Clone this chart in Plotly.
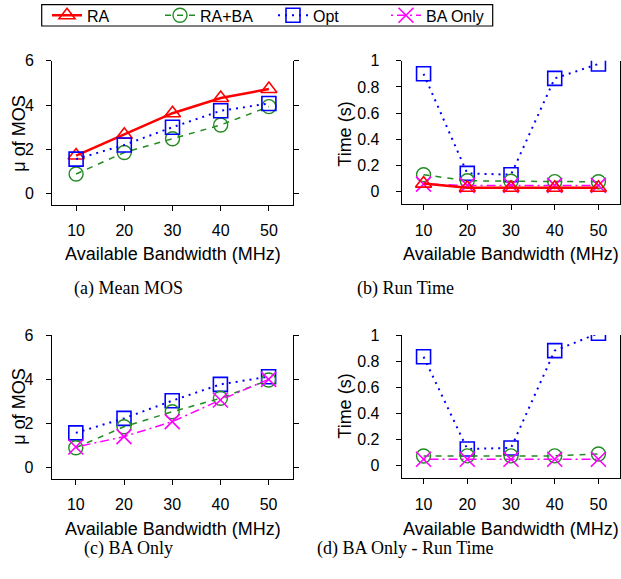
import plotly.graph_objects as go

# ---------------- data ----------------
bandwidth = [10, 20, 30, 40, 50]
bandwidth_labels = ["10", "20", "30", "40", "50"]

# (a) Mean MOS
mos_ra = [1.72, 2.66, 3.63, 4.32, 4.72]
mos_raba = [0.89, 1.86, 2.48, 3.10, 3.93]
mos_opt = [1.56, 2.20, 3.00, 3.74, 4.07]

# (b) Run time
time_opt = [0.90, 0.14, 0.13, 0.865, 0.975]
time_raba = [0.13, 0.084, 0.080, 0.077, 0.076]
time_ra = [0.062, 0.030, 0.030, 0.030, 0.030]
time_ba = [0.058, 0.048, 0.048, 0.048, 0.048]

# (c) BA only MOS
mosc_opt = [1.56, 2.22, 3.02, 3.76, 4.11]
mosc_raba = [0.89, 1.84, 2.52, 3.13, 3.96]
mosc_ba = [0.92, 1.39, 2.07, 3.05, 3.99]

# (d) BA only run time
timed_opt = [0.833, 0.125, 0.133, 0.88, 1.013]
timed_raba = [0.071, 0.072, 0.072, 0.072, 0.087]
timed_ba = [0.046, 0.046, 0.046, 0.046, 0.046]

mos_ticks = [0, 2, 4, 6]
time_ticks = [0, 0.2, 0.4, 0.6, 0.8, 1]
time_ticktext = ["0", "0.2", "0.4", "0.6", "0.8", "1"]

# ---------------- styles ----------------
W, H = 621, 579
RED, GREEN, BLUE, MAG = "#FF0000", "#228B22", "#0000FF", "#FF00FF"
style = {
    "RA": dict(line=dict(color=RED, width=2.5),
               marker=dict(symbol="triangle-up-open", size=14, color=RED, line=dict(width=1.6, color=RED)), rank=1),
    "RA+BA": dict(line=dict(color=GREEN, width=1.5, dash="6px,6px"),
                  marker=dict(symbol="circle-open", size=14, color=GREEN, line=dict(width=1.4, color=GREEN)), rank=2),
    "Opt": dict(line=dict(color=BLUE, width=2, dash="2px,5px"),
                marker=dict(symbol="square-open", size=14, color=BLUE, line=dict(width=1.6, color=BLUE)), rank=3),
    "BA Only": dict(line=dict(color=MAG, width=1.5, dash="2px,4px,9px,4px"),
                    marker=dict(symbol="x-thin-open", size=15, color=MAG, line=dict(width=1.6, color=MAG)), rank=4),
}

fig = go.Figure()
shown = set()


def add(name, y, xa, ya):
    s = style[name]
    show = name not in shown
    shown.add(name)
    fig.add_trace(go.Scatter(
        x=bandwidth, y=y, mode="lines+markers", name=name,
        line=s["line"], marker=s["marker"], xaxis=xa, yaxis=ya,
        showlegend=show, legendrank=s["rank"], cliponaxis=True))


# panel (a)
add("RA", mos_ra, "x", "y")
add("RA+BA", mos_raba, "x", "y")
add("Opt", mos_opt, "x", "y")
# panel (b)
add("Opt", time_opt, "x2", "y2")
add("RA+BA", time_raba, "x2", "y2")
add("BA Only", time_ba, "x2", "y2")
add("RA", time_ra, "x2", "y2")
# panel (c)
add("Opt", mosc_opt, "x3", "y3")
add("RA+BA", mosc_raba, "x3", "y3")
add("BA Only", mosc_ba, "x3", "y3")
# panel (d)
add("Opt", timed_opt, "x4", "y4")
add("RA+BA", timed_raba, "x4", "y4")
add("BA Only", timed_ba, "x4", "y4")

FONT = "Liberation Sans, Arial, sans-serif"
SERIF = "Liberation Serif, Times New Roman, serif"
TICKFONT = dict(family=FONT, size=16, color="black")


def px_x(a, b):
    return [a / W, b / W]


def px_y(top, bottom):
    return [1 - bottom / H, 1 - top / H]


panels = {
    1: dict(xd=px_x(52, 293), yd=px_y(60.7, 205), yr=[-0.51, 6], yt=mos_ticks, ytt=[str(v) for v in mos_ticks], so=9),
    2: dict(xd=px_x(401.7, 620.3), yd=px_y(60.7, 204.3), yr=[-0.096, 1], yt=time_ticks, ytt=time_ticktext, so=13),
    3: dict(xd=px_x(51.7, 292.7), yd=px_y(335, 479), yr=[-0.53, 6], yt=mos_ticks, ytt=[str(v) for v in mos_ticks], so=9),
    4: dict(xd=px_x(401.7, 620.3), yd=px_y(335, 478.3), yr=[-0.10, 1], yt=time_ticks, ytt=time_ticktext, so=13),
}

lay = {}
for i, p in panels.items():
    sx = "" if i == 1 else str(i)
    lay["xaxis" + sx] = dict(
        domain=p["xd"], range=[5, 55], anchor="y" + sx, tickmode="array",
        tickvals=bandwidth, ticktext=bandwidth_labels, showline=True, linecolor="black",
        linewidth=1, ticks="outside", ticklen=5, tickcolor="black", tickwidth=1,
        showgrid=False, zeroline=False, tickfont=TICKFONT, ticklabelstandoff=6,
        automargin=False)
    lay["yaxis" + sx] = dict(
        domain=p["yd"], range=p["yr"], anchor="x" + sx, tickmode="array",
        tickvals=p["yt"], ticktext=p["ytt"], showline=True, mirror="ticks",
        linecolor="black", linewidth=1, ticks="outside", ticklen=5, tickcolor="black",
        tickwidth=1, showgrid=False, zeroline=False, tickfont=TICKFONT,
        ticklabelstandoff=p["so"], automargin=False)
    # top tick marks (no line)
    lay["xaxis" + str(i + 4)] = dict(
        overlaying="x" + sx, side="top", anchor="y" + sx, range=[5, 55],
        tickmode="array", tickvals=bandwidth, showticklabels=False, ticks="outside",
        ticklen=5, tickcolor="black", tickwidth=1, showline=False, showgrid=False,
        zeroline=False, automargin=False)

ann = []


def text(x, y, t, size=18, family=FONT, angle=0):
    ann.append(dict(x=x / W, y=1 - y / H, xref="paper", yref="paper", text=t,
                    showarrow=False, xanchor="center", yanchor="middle", textangle=angle,
                    font=dict(family=family, size=size, color="black")))


text(172.5, 254, "Available Bandwidth (MHz)")
text(511, 254, "Available Bandwidth (MHz)")
text(172.5, 528.5, "Available Bandwidth (MHz)")
text(511, 528.5, "Available Bandwidth (MHz)")
text(18.7, 134, "μ of MOS", angle=-90)
text(344.7, 134, "Time (s)", angle=-90)
text(18.7, 407, "μ of MOS", angle=-90)
text(344.7, 406, "Time (s)", angle=-90)
text(128.8, 288, "(a) Mean MOS", size=18, family=SERIF)
text(405.5, 288, "(b) Run Time", size=18, family=SERIF)
text(128.3, 548, "(c) BA Only", size=18, family=SERIF)
text(405.5, 548, "(d) BA Only - Run Time", size=18, family=SERIF)

fig.update_layout(
    width=W, height=H, autosize=False,
    margin=dict(l=0, r=0, t=0, b=0, pad=0, autoexpand=False),
    paper_bgcolor="white", plot_bgcolor="white",
    annotations=ann,
    shapes=[dict(type="rect", xref="paper", yref="paper",
                 x0=41.7 / W, x1=492.7 / W, y0=1 - 26 / H, y1=1 - 4.7 / H,
                 line=dict(color="black", width=1.2))],
    legend=dict(orientation="h", x=47 / W, xanchor="left", y=1 - 15.4 / H, yanchor="middle",
                entrywidth=68, entrywidthmode="pixels", bgcolor="rgba(0,0,0,0)",
                borderwidth=0, font=dict(family=FONT, size=16, color="black"),
                traceorder="normal", itemwidth=30),
    **lay,
)

fig.write_html(
    "out.html",
    config={"displayModeBar": False},
    post_script="document.body.style.margin='0';document.body.style.overflow='hidden';",
)
